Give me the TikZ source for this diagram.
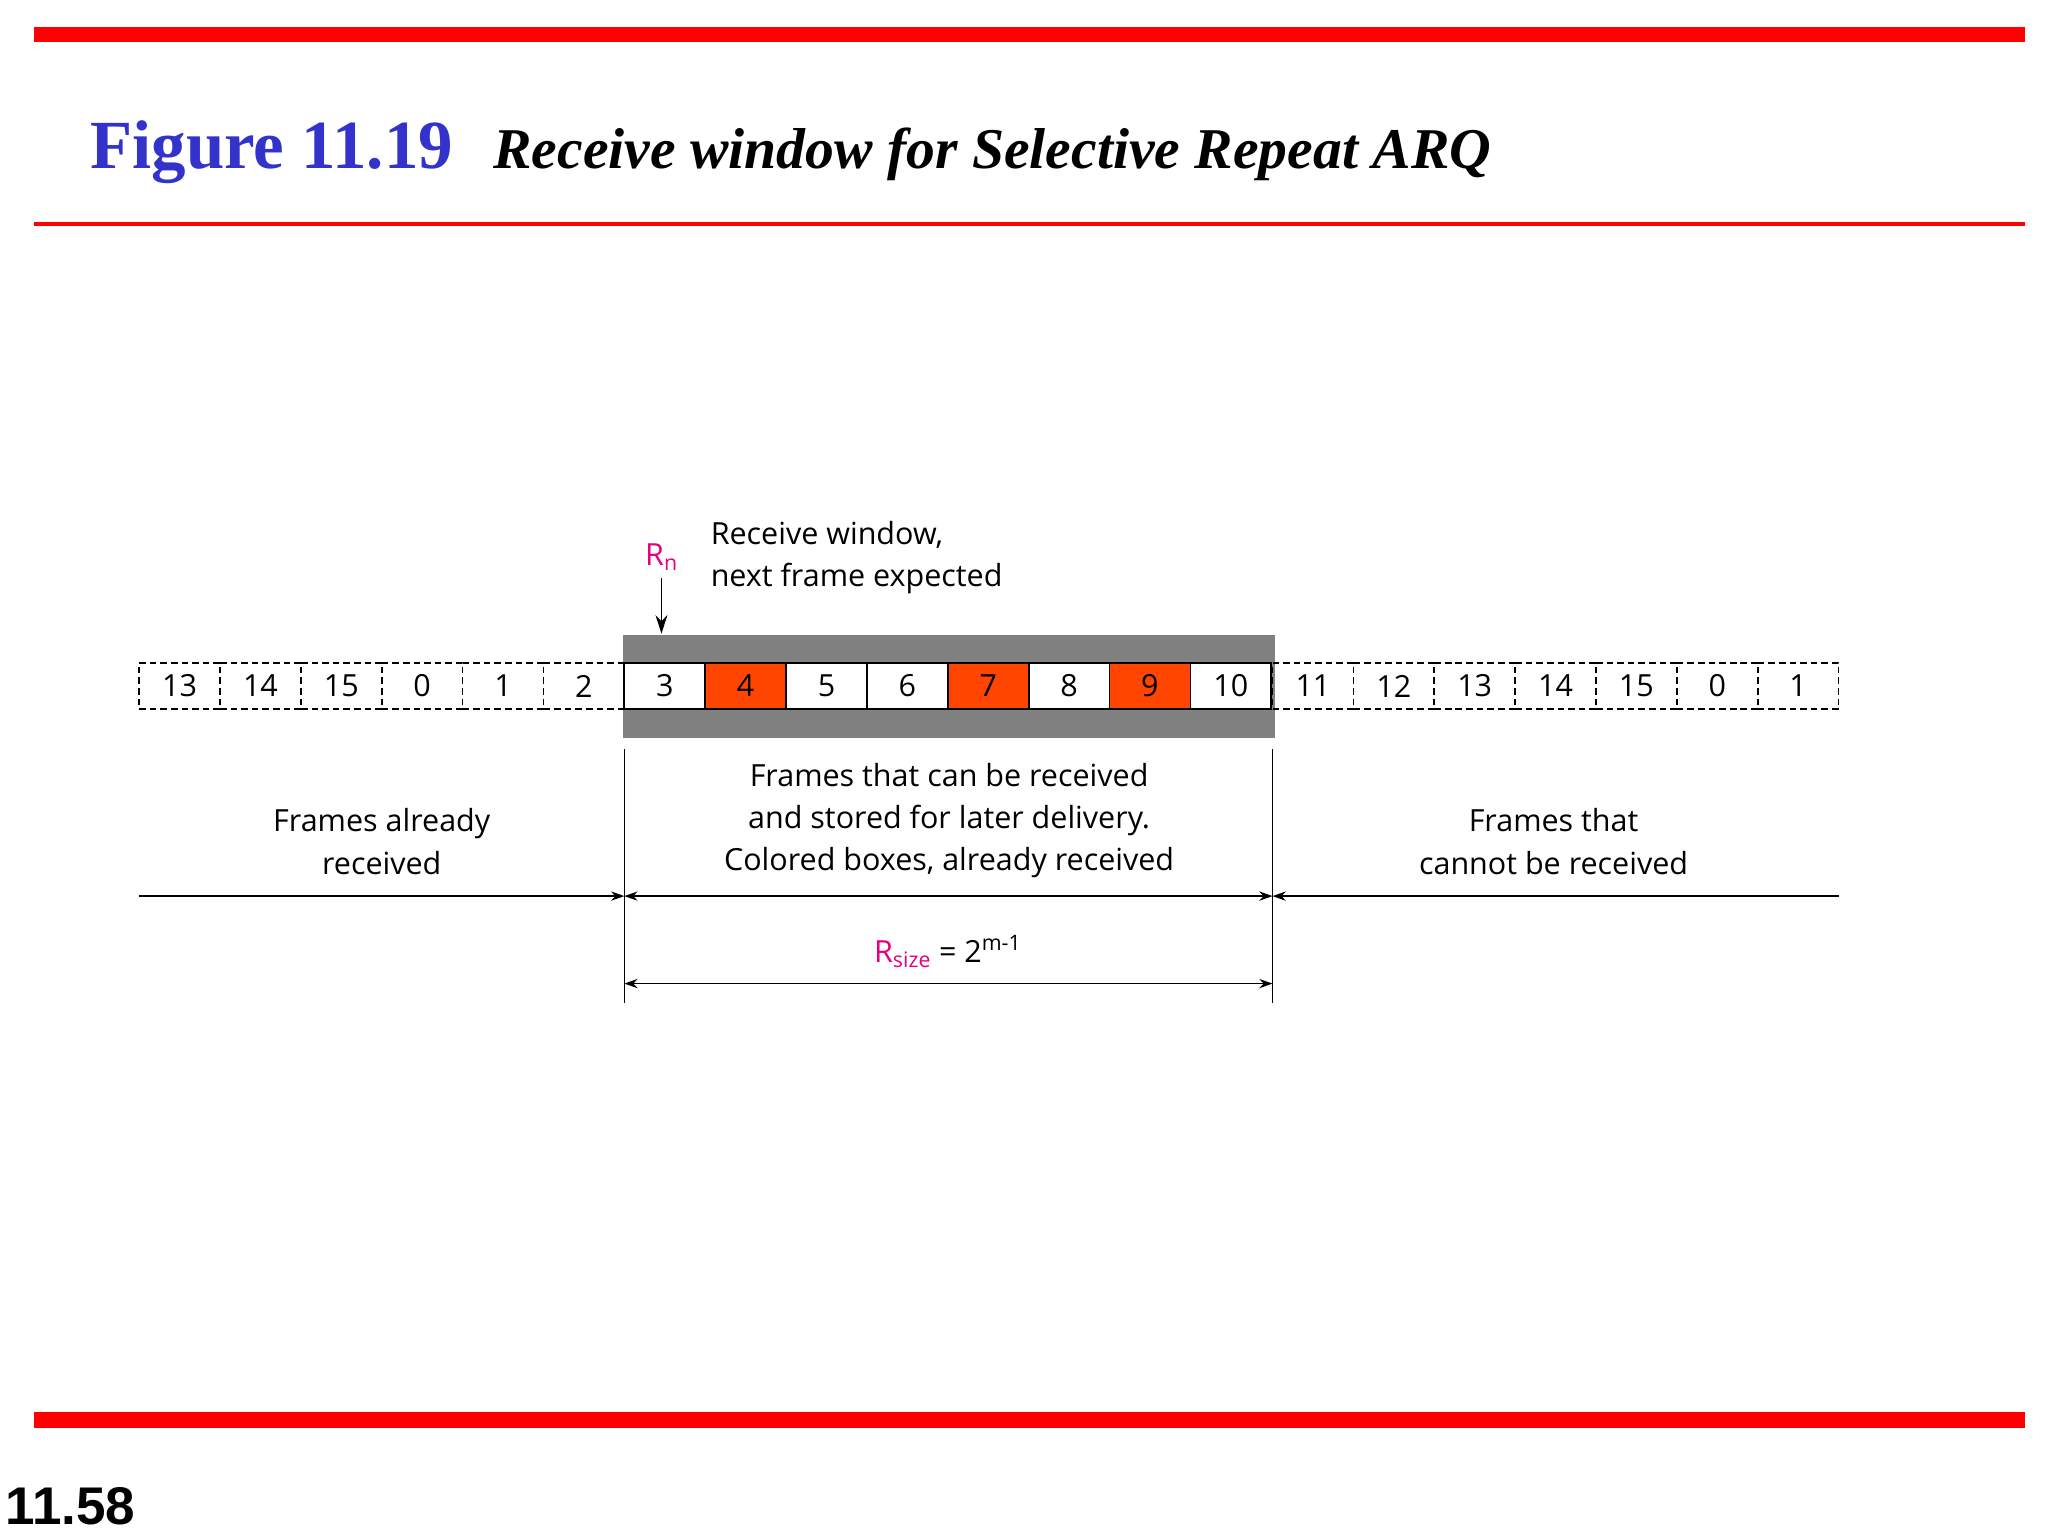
\documentclass[tikz,border=0pt]{standalone}
\usepackage{fontspec}
\setmainfont{Liberation Serif}
\newfontfamily\lab{Open Sans}
\newfontfamily\arialf{Liberation Sans}
\usetikzlibrary{arrows.meta}
\definecolor{myred}{RGB}{255,0,0}
\definecolor{ored}{RGB}{255,69,0}
\definecolor{mag}{RGB}{230,0,126}
\definecolor{tblue}{RGB}{51,51,204}
\tikzset{
 fbox/.style={draw,line width=1.3pt,minimum width=61pt,minimum height=35pt,inner sep=0pt,font=\lab\fontsize{23}{26}\selectfont},
 dbox/.style={fbox,dashed,dash pattern=on 5pt off 3pt},
 lbl/.style={font=\lab\fontsize{23}{32}\selectfont,align=center},
 dim/.style={line width=1pt,-{Stealth[length=10pt,width=7pt]}},
 dimb/.style={line width=1pt,{Stealth[length=10pt,width=7pt]}-{Stealth[length=10pt,width=7pt]}}
}
\begin{document}
\begin{tikzpicture}[x=1pt,y=-1pt]
\useasboundingbox (0,0) rectangle (1545,1159);
\fill[myred] (26,20) rectangle (1528,32);
\fill[myred] (26,167.5) rectangle (1528,170.5);
\fill[myred] (26,1065) rectangle (1528,1077);
\node[anchor=base west,text=tblue,font=\bfseries\fontsize{52}{54}\selectfont,inner sep=0] (t1) at (68,127) {Figure 11.19};
\node[anchor=base west,font=\bfseries\itshape\fontsize{43.5}{46}\selectfont,inner sep=0] (t2) at (372,127) {Receive window for Selective Repeat ARQ};
\node[anchor=base west,font=\arialf\bfseries\fontsize{40}{44}\selectfont,inner sep=0] (pg) at (4,1150) {11.58};
\fill[black!50] (470,479) rectangle (962,557);
\foreach \i/\t in {0/13,1/14,2/15,3/0,4/1,5/2}{
 \node[dbox] (l\i) at (135.5+61*\i,517.5) {\t};}
\foreach \i/\t/\c in {0/3/white,1/4/ored,2/5/white,3/6/white,4/7/ored,5/8/white,6/9/ored,7/10/white}{
 \node[fbox,fill=\c] (w\i) at (501.5+61*\i,517.5) {\t};}
\foreach \i/\t in {0/11,1/12,2/13,3/14,4/15,5/0,6/1}{
 \node[dbox] (r\i) at (990.5+61*\i,517.5) {\t};}
\node[text=mag,font=\lab\fontsize{23}{26}\selectfont,inner sep=0] (rn) at (499,420) {R\textsubscript{n}};
\coordinate (rnb) at (499,478);
\draw[line width=1.3pt,-{Stealth[length=14pt,width=9pt]}] (499,436) -- (rnb);
\node[lbl,anchor=north west,align=left,inner sep=0] (rw) at (536,393) {Receive window,\\next frame expected};
\coordinate (va1) at (471,565); \coordinate (va2) at (471,757);
\coordinate (vb1) at (960,565); \coordinate (vb2) at (960,757);
\draw[line width=1pt] (va1) -- (va2);
\draw[line width=1pt] (vb1) -- (vb2);
\coordinate (a0) at (105,676); \coordinate (a1) at (471,676);
\coordinate (a2) at (960,676); \coordinate (a3) at (1387,676);
\draw[dim] (a0) -- (a1);
\draw[dimb] (a1) -- (a2);
\draw[dim] (a3) -- (a2);
\coordinate (b1) at (471,742); \coordinate (b2) at (960,742);
\draw[dimb] (b1) -- (b2);
\node[lbl] (t3) at (288,635) {Frames already\\received};
\node[lbl] (t4) at (716,619) {Frames that can be received\\and stored for later delivery.\\Colored boxes, already received};
\node[lbl] (t5) at (1172,635) {Frames that\\cannot be received};
\node[font=\lab\fontsize{23}{26}\selectfont,inner sep=0] (rs) at (715,718) {\textcolor{mag}{R\textsubscript{size}} = 2\textsuperscript{m-1}};
\end{tikzpicture}
\end{document}
